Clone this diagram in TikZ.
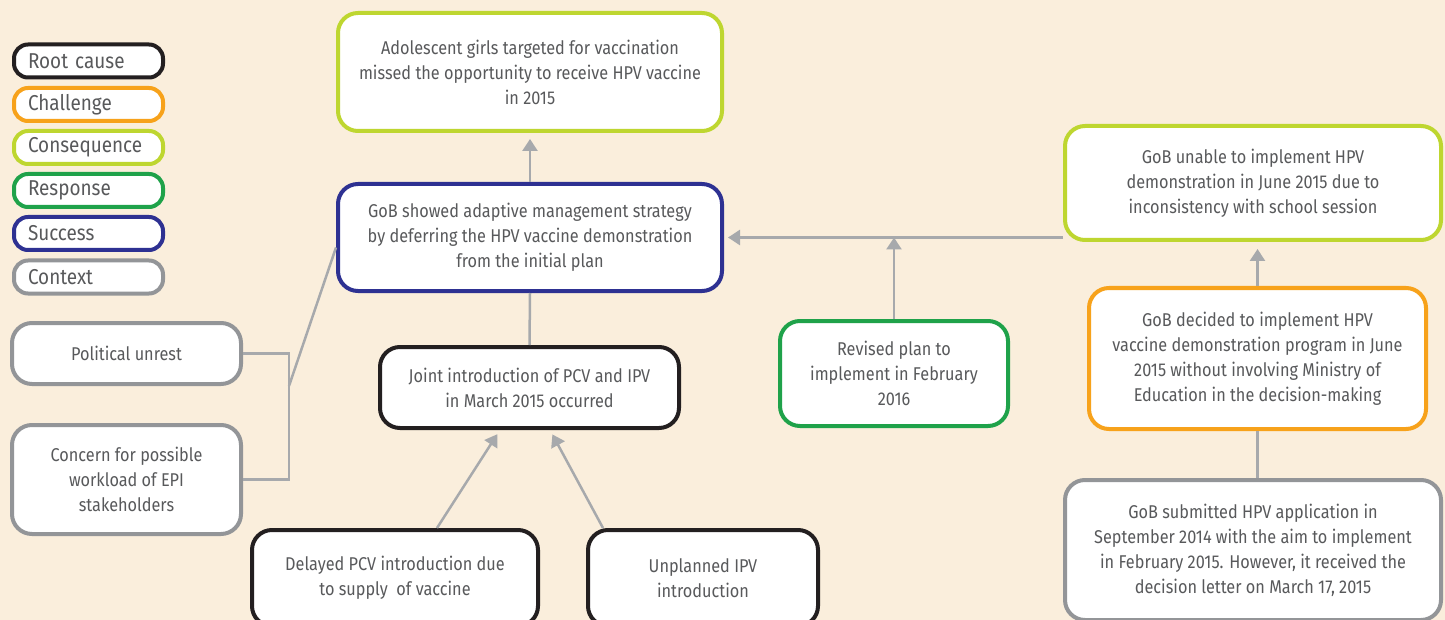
\documentclass[tikz,border=0pt]{standalone}
\usepackage{fontspec}
\setmainfont{Fira Sans}[FakeStretch=0.88]
\usetikzlibrary{arrows.meta,calc}
\definecolor{bg}{HTML}{FAEEDC}
\definecolor{txt}{HTML}{58595B}
\definecolor{cRoot}{HTML}{231F20}
\definecolor{cChal}{HTML}{F7A21B}
\definecolor{cCons}{HTML}{BED630}
\definecolor{cResp}{HTML}{1FA24A}
\definecolor{cSucc}{HTML}{2E3192}
\definecolor{cCtx}{HTML}{939598}
\definecolor{cLine}{HTML}{A7A9AC}
\tikzset{
  box/.style={draw, line width=4pt, fill=white, rounded corners=20pt, align=center,
    text=txt, font=\fontsize{18.5}{25}\selectfont, inner sep=0pt},
  legbox/.style={draw, line width=4pt, fill=white, rounded corners=14pt, anchor=west,
    minimum width=149pt, minimum height=33pt, text width=121pt, align=left, inner xsep=14pt,
    text=txt, font=\fontsize{21.5}{24}\selectfont},
  conn/.style={draw=cLine, line width=2.5pt},
  arr/.style={conn, -{Triangle[width=15pt,length=12pt]}},
}
\begin{document}
\begin{tikzpicture}[x=1pt,y=-1pt]
\useasboundingbox (0,0) rectangle (1445,620);
\clip (0,0) rectangle (1445,620);
\fill[bg] (0,0) rectangle (1445,620);

% legend
\node[legbox, draw=cRoot] (lroot) at (12,61) {Root cause};
\node[legbox, draw=cChal] (lchal) at (12,104.5) {Challenge};
\node[legbox, draw=cCons] (lcons) at (12,147.5) {Consequence};
\node[legbox, draw=cResp] (lresp) at (12,190.5) {Response};
\node[legbox, draw=cSucc] (lsucc) at (12,233.5) {Success};
\node[legbox, draw=cCtx] (lctx) at (12,277) {Context};

% nodes
\node[box, draw=cCtx, minimum width=229pt, minimum height=61pt] (pol) at (126.5,353.5) {Political unrest};
\node[box, draw=cCtx, minimum width=229pt, minimum height=109pt] (conc) at (126.5,479.5) {Concern for possible\\workload of EPI\\stakeholders};
\node[box, draw=cCons, minimum width=384pt, minimum height=118pt] (miss) at (530,72) {Adolescent girls targeted for vaccination\\missed the opportunity to receive HPV vaccine\\in 2015};
\node[box, draw=cSucc, minimum width=384pt, minimum height=107pt] (succ) at (530,237.5) {GoB showed adaptive management strategy\\by deferring the HPV vaccine demonstration\\from the initial plan};
\node[box, draw=cRoot, minimum width=299pt, minimum height=81pt] (joint) at (529.5,387.5) {Joint introduction of PCV and IPV\\in March 2015 occurred};
\node[box, draw=cRoot, minimum width=286pt, minimum height=96pt] (del) at (395,578) {Delayed PCV introduction due\\to supply~ of vaccine};
\node[box, draw=cRoot, minimum width=230pt, minimum height=96pt] (unpl) at (703,578) {Unplanned IPV\\introduction};
\node[box, draw=cResp, minimum width=228pt, minimum height=105pt] (rev) at (894,373.5) {Revised plan to\\implement in February\\2016};
\node[box, draw=cCons, minimum width=376pt, minimum height=114pt] (unab) at (1253,183) {GoB unable to implement HPV\\demonstration in June 2015 due to\\inconsistency with school session};
\node[box, draw=cChal, minimum width=337pt, minimum height=141pt] (dec) at (1257.5,358.5) {GoB decided to implement HPV\\vaccine demonstration program in June\\2015 without involving Ministry of\\Education in the decision-making};
\node[box, draw=cCtx, minimum width=376pt, minimum height=140pt] (sub) at (1253,550) {GoB submitted HPV application in\\September 2014 with the aim to implement\\in February 2015. However, it received the\\decision letter on March 17, 2015};

% connectors
\coordinate (br) at (289,386);
\draw[conn] (pol.east) -- ++(46,0) |- (conc.east);
\draw[conn] (br) -- ([yshift=-10pt]succ.west);
\draw[arr, shorten >=6pt] (succ.north) -- (miss.south);
\draw[conn] (joint.north) -- (succ.south);
\draw[arr, shorten >=5pt] ([xshift=42pt]del.north) -- ([xshift=-29.5pt]joint.south);
\draw[arr, shorten >=5pt] ([xshift=-100pt]unpl.north) -- ([xshift=20.5pt]joint.south);
\draw[arr, shorten >=4pt] (unab.west |- succ.east) -- (succ.east);
\draw[arr] (rev.north) -- (rev.north |- succ.east);
\draw[arr, shorten >=7pt] (dec.north) -- (dec.north |- unab.south);
\draw[conn] (sub.north -| dec.south) -- (dec.south);
\end{tikzpicture}
\end{document}
